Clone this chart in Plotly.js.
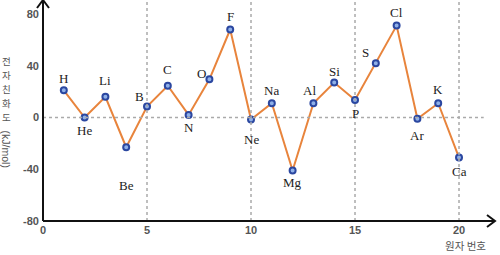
<!DOCTYPE html>
<html>
<head>
<meta charset="utf-8">
<script src="https://cdn.plot.ly/plotly-3.0.1.min.js"></script>
<style>html,body{margin:0;padding:0;background:#fff;}#chart{width:500px;height:255px;}</style>
</head>
<body>
<div id="chart"></div>
<script>
// ---- data ----
var atomicNumber = [1,2,3,4,5,6,7,8,9,10,11,12,13,14,15,16,17,18,19,20];
var symbols = ['H','He','Li','Be','B','C','N','O','F','Ne','Na','Mg','Al','Si','P','S','Cl','Ar','K','Ca'];
var affinity = [21,0,16,-23,8.5,24.5,2,29.5,68,-1.5,11,-41,11,27,13.5,42,71,-1,11,-31];
var xTicks = [0,5,10,15,20];
var yTicks = [-80,-40,0,40,80];
var yTitleKo = ['전','자','친','화','도'];
var yTitleUnit = '(kJ/mol)';
var xTitle = '원자 번호';

// ---- label placement (pixel offsets, dx right, dy down) ----
var labelOffsets = [[0,-12],[0,13],[0,-16],[0,38],[-8,-10],[0,-16],[0,13],[-8,-6],[0,-13],[0,20],
                    [0,-13],[0,12],[-4,-13],[0,-11],[0,13],[-10,-11],[0,-13],[0,17],[0,-14],[0,14]];

var annotations = symbols.map(function(s,i){
  return {x: atomicNumber[i], y: affinity[i], xref:'x', yref:'y', text: s, showarrow:false,
    xshift: labelOffsets[i][0], yshift: -labelOffsets[i][1],
    font:{family:'Liberation Serif, DejaVu Serif, serif', size:13, color:'#222'}};
});
// y-axis title: stacked Korean + rotated unit
yTitleKo.forEach(function(c,i){
  annotations.push({xref:'paper', yref:'paper', x:-0.081, y:1-(61+i*14)/221, text:c, showarrow:false,
    xanchor:'center', yanchor:'middle', borderpad:0,
    font:{family:'Noto Sans CJK KR', size:9.5, color:'#555'}});
});
annotations.push({xref:'paper', yref:'paper', x:-0.081, y:1-149/221, text:yTitleUnit, showarrow:false,
  textangle:90, xanchor:'center', yanchor:'middle',
  font:{family:'Liberation Sans, Arial, sans-serif', size:10.5, color:'#555'}});
annotations.push({xref:'paper', yref:'paper', x:(465-43)/452, y:-(245-221)/221, text:xTitle, showarrow:false,
  xanchor:'center', yanchor:'middle',
  font:{family:'Noto Sans CJK KR', size:10.5, color:'#555'}});

var shapes = [];
// vertical dashed grid
[5,10,15,20].forEach(function(v){
  shapes.push({type:'line', xref:'x', yref:'paper', x0:v, x1:v, y0:0, y1:1,
    line:{color:'#aaa', width:1.5, dash:'3px,3px'}});
});
// horizontal zero line
shapes.push({type:'line', xref:'paper', yref:'y', x0:0, x1:0.975, y0:0, y1:0,
  line:{color:'#aaa', width:1.5, dash:'3px,3px'}});
// axes with arrows
var aw = 6/452, ah = 8/221, bw = 8/452, bh = 6/221;
shapes.push({type:'line', xref:'paper', yref:'paper', x0:0, x1:0, y0:0, y1:1, line:{color:'#111', width:2}});
shapes.push({type:'line', xref:'paper', yref:'paper', x0:0, x1:1, y0:0, y1:0, line:{color:'#111', width:2}});
shapes.push({type:'path', xref:'paper', yref:'paper',
  path:'M '+(-aw)+' '+(1-ah)+' L 0 1 L '+aw+' '+(1-ah), line:{color:'#111', width:2}});
shapes.push({type:'path', xref:'paper', yref:'paper',
  path:'M '+(1-bw)+' '+bh+' L 1 0 L '+(1-bw)+' '+(-bh), line:{color:'#111', width:2}});

var trace = {
  x: atomicNumber, y: affinity, type:'scatter', mode:'lines+markers',
  line:{color:'#e8843c', width:2},
  marker:{size:6, color:'#8fb0e8', line:{color:'#2b47a0', width:2}},
  hoverinfo:'skip'
};

var layout = {
  width:500, height:255,
  margin:{l:43, r:5, t:0, b:34},
  paper_bgcolor:'#fff', plot_bgcolor:'#fff',
  showlegend:false,
  xaxis:{range:[0,21.73], tickvals:xTicks, ticktext:xTicks.map(String), showgrid:false, zeroline:false,
    showline:false, ticks:'', ticklabelstandoff:1,
    tickfont:{family:'Liberation Sans, Arial, sans-serif', size:11, color:'#555', weight:'bold'}},
  yaxis:{range:[-80,90.8], tickvals:yTicks, ticktext:yTicks.map(String), showgrid:false, zeroline:false,
    showline:false, ticks:'', ticklabelstandoff:3,
    tickfont:{family:'Liberation Sans, Arial, sans-serif', size:11, color:'#555', weight:'bold'}},
  annotations: annotations,
  shapes: shapes
};

Plotly.newPlot('chart', [trace], layout, {displayModeBar:false, staticPlot:true});
</script>
</body>
</html>
